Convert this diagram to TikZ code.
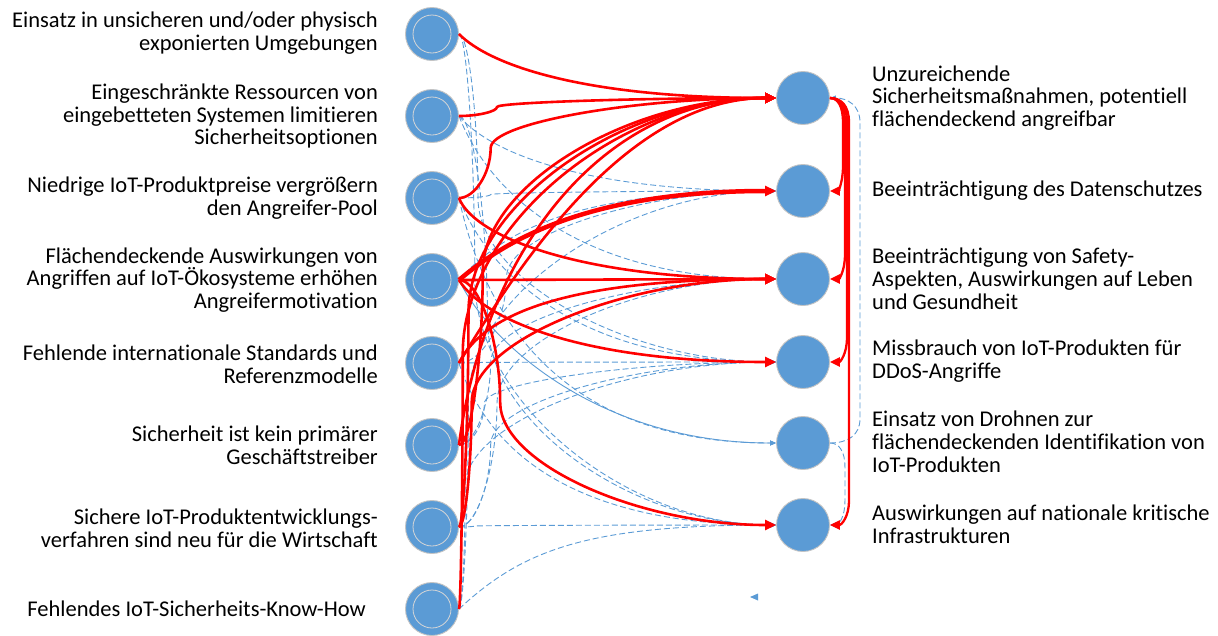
\documentclass[tikz,border=0pt]{standalone}
\usepackage{fontspec}
\setmainfont[Ligatures=NoCommon]{Carlito}
\usetikzlibrary{calc,arrows.meta}
\definecolor{nodeblue}{HTML}{5B9BD5}
\definecolor{rimgray}{HTML}{C4C4C4}
\definecolor{ringgray}{HTML}{D6D6D6}
\definecolor{redline}{HTML}{FF0000}
\newcommand\txtf{\fontsize{22.5}{22.8}\selectfont}
% S-shaped connector (curved connector with vertical middle)
\newcommand\SC[4]{\draw[#1] let \p1=(#2.east), \p2=(#3.west),
  \n1={\x1+#4*(\x2-\x1)}, \n2={(\x1+\n1)/2}, \n3={(\x2+\n1)/2},
  \n4={(\y1+\y2)/2}, \n5={\y1+(\y2-\y1)/4}, \n6={\y1+3*(\y2-\y1)/4}
  in (\p1) .. controls (\n2,\y1) and (\n1,\n5) .. (\n1,\n4)
           .. controls (\n1,\n6) and (\n3,\y2) .. (\p2);}
% general connector
\newcommand\GC[6]{\draw[#1] let \p1=(#2.east), \p2=(#3.west),
  \n1={\x1+#4*(\x2-\x1)}, \n2={\y1+#5*(\y2-\y1)}, \n3={\x1+#6*(\x2-\x1)}
  in (\p1) .. controls (\n1,\n2) and (\n3,\y2) .. (\p2);}
% right-side loop connector
\newcommand\RC[5]{\draw[#1] let \p1=(#2.east), \p2=(#3.east), \n1={\x1+#4}
  in (\p1) .. controls ({\x1+0.6*#4},\y1) and (\n1,{\y1-#5*8}) .. (\n1,{\y1-#5*24})
     -- (\n1,{\y2+#5*24}) .. controls (\n1,{\y2+#5*8}) and ({\x2+0.6*#4},\y2) .. (\p2);}
\tikzset{
  cnode/.style={circle, fill=nodeblue, draw=rimgray, line width=0.9pt, minimum size=53pt, inner sep=0pt},
  ring/.style={draw=ringgray, line width=0.8pt},
  ltext/.style={anchor=east, align=right, font=\txtf, inner sep=0pt},
  rtext/.style={anchor=west, align=left, font=\txtf, inner sep=0pt},
  redc/.style={draw=redline, line width=2.6pt, -{Triangle[length=11pt,width=10pt]}},
  redthick/.style={redc, line width=4.5pt},
  redr/.style={draw=redline, line width=2.3pt, -{Triangle[length=10pt,width=9pt]}},
  bluec/.style={draw=nodeblue, line width=0.9pt, dash pattern=on 6pt off 3pt, -{Triangle[length=6pt,width=5pt]}},
  bluesolid/.style={draw=nodeblue, line width=0.9pt, -{Triangle[length=6pt,width=5pt]}},
}
\begin{document}
\begin{tikzpicture}[x=1pt,y=-1pt]
\useasboundingbox (0,0) rectangle (1218,635);
% left nodes
\foreach \i/\y in {1/34,2/116,3/198,4/280,5/363,6/445,7/527,8/609}{
  \node[cnode] (L\i) at (432,\y) {};
  \draw[ring] (L\i.center) circle[radius=19];
}
% right nodes
\foreach \i/\y in {1/98,2/191,3/279,4/362,5/443,6/525}{
  \node[cnode] (R\i) at (803,\y) {};
}
% left texts
\node[ltext] (TL1) at (378,33) {Einsatz in unsicheren und/oder physisch\\exponierten Umgebungen};
\node[ltext] (TL2) at (378,116) {Eingeschränkte Ressourcen von\\eingebetteten Systemen limitieren\\Sicherheitsoptionen};
\node[ltext] (TL3) at (378,198) {Niedrige IoT-Produktpreise vergrößern\\den Angreifer-Pool};
\node[ltext] (TL4) at (378,280) {Flächendeckende Auswirkungen von\\Angriffen auf IoT-Ökosysteme erhöhen\\Angreifermotivation};
\node[ltext] (TL5) at (378,364) {Fehlende internationale Standards und\\Referenzmodelle};
\node[ltext] (TL6) at (378,445) {Sicherheit ist kein primärer\\Geschäftstreiber};
\node[ltext] (TL7) at (378,528) {Sichere IoT-Produktentwicklungs-\\verfahren sind neu für die Wirtschaft};
\node[ltext] (TL8) at (366,609) {Fehlendes IoT-Sicherheits-Know-How};
% right texts
\node[rtext] (TR1) at (872,98) {Unzureichende\\Sicherheitsmaßnahmen, potentiell\\flächendeckend angreifbar};
\node[rtext] (TR2) at (872,191) {Beeinträchtigung des Datenschutzes};
\node[rtext] (TR3) at (872,279) {Beeinträchtigung von Safety-\\Aspekten, Auswirkungen auf Leben\\und Gesundheit};
\node[rtext] (TR4) at (872,361) {Missbrauch von IoT-Produkten für\\DDoS-Angriffe};
\node[rtext] (TR5) at (872,442) {Einsatz von Drohnen zur\\flächendeckenden Identifikation von\\IoT-Produkten};
\node[rtext] (TR6) at (872,524) {Auswirkungen auf nationale kritische\\Infrastrukturen};
% blue connectors
\SC{bluec}{L1}{R4}{0.06}
\SC{bluec}{L1}{R6}{0.05}
\GC{bluec}{L2}{R2}{0.1}{0.5}{0.4}
\GC{bluec}{L2}{R3}{0.1}{0.5}{0.4}
\SC{bluec}{L2}{R6}{0.09}
\SC{bluec}{L3}{R2}{0.1}
\GC{bluec}{L3}{R4}{0.1}{0.5}{0.4}
\GC{bluec}{L3}{R5}{0.1}{0.6}{0.4}
\GC{bluec}{L4}{R2}{0.15}{0.6}{0.4}
\GC{bluesolid}{L4}{R5}{0.1}{0.4}{0.45}
\SC{bluec}{L5}{R2}{0.15}
\SC{bluec}{L5}{R4}{0.06}
\GC{bluec}{L5}{R6}{0.1}{0.6}{0.4}
\SC{bluec}{L6}{R3}{0.1}
\SC{bluec}{L6}{R4}{0.08}
\SC{bluec}{L7}{R3}{0.12}
\SC{bluec}{L7}{R4}{0.1}
\SC{bluec}{L7}{R6}{0.05}
\GC{bluec}{L8}{R6}{0.2}{0.7}{0.4}
\SC{bluec}{L8}{R4}{0.02}
\SC{bluec}{L8}{R2}{0.03}
\RC{bluec}{R5}{R1}{30}{-1}
\RC{bluec}{R5}{R6}{15}{1}
% red connectors
\GC{redc}{L1}{R1}{0.1}{0.5}{0.4}
\SC{redc}{L2}{R1}{0.12}
\SC{redc}{L3}{R1}{0.1}
\GC{redc}{L3}{R3}{0.05}{0.5}{0.4}
\GC{redthick}{L4}{R2}{0.13}{0.39}{0.38}
\draw[redc] (L4.east) -- (R3.west);
\GC{redc}{L4}{R4}{0.08}{0.5}{0.4}
\SC{redc}{L4}{R6}{0.13}
\GC{redc}{L5}{R1}{0.16}{0.31}{0.51}
\GC{redc}{L5}{R3}{0.08}{0.6}{0.35}
\GC{redc}{L6}{R1}{0.08}{0.56}{0.45}
\SC{redc}{L6}{R1}{0.075}
\SC{redc}{L7}{R1}{0.03}
\SC{redc}{L7}{R3}{0.04}
\SC{redc}{L8}{R1}{0.012}
\RC{redr}{R1}{R2}{13}{1}
\RC{redr}{R1}{R3}{15}{1}
\RC{redr}{R1}{R4}{17}{1}
\RC{redr}{R1}{R6}{19}{1}
% stray arrowhead
\fill[nodeblue] (750,597) -- (758,593.5) -- (758,600.5) -- cycle;
\end{tikzpicture}
\end{document}
